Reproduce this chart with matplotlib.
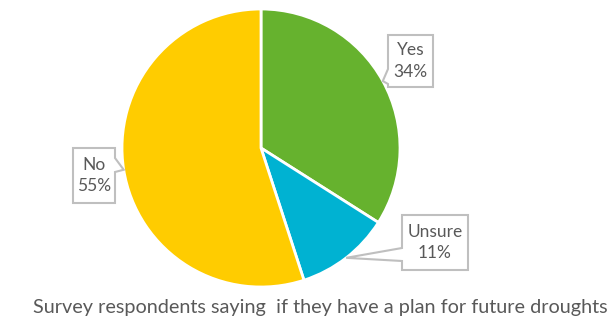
import numpy as np
import matplotlib.pyplot as plt
from matplotlib.patches import Polygon

# Données
categories = ['Yes', 'Unsure', 'No']
valeurs = [34, 11, 55]
couleurs = ['#66B22E', '#00B2D2', '#FFCC00']
titre = 'Survey respondents saying  if they have a plan for future droughts'

# Mise en page (pixels de l'image 610x324)
W, H = 610, 324
cx, cy, R = 261, 148, 139

def px(x, y):
    # conversion pixel -> coordonnées des axes (rayon du camembert = 1)
    return (x - cx) / R, (cy - y) / R

fig = plt.figure(figsize=(W / 100, H / 100), dpi=100)
ax = fig.add_axes([0, 0, 1, 1])

wedges, _ = ax.pie(valeurs, colors=couleurs, startangle=90, counterclock=False,
                   radius=1, center=(0, 0), frame=True,
                   wedgeprops=dict(edgecolor='white', linewidth=2))
ax.set_xlim(-cx / R, (W - cx) / R)
ax.set_ylim(-(H - cy) / R, cy / R)
ax.set_aspect('auto')
ax.axis('off')

# Boîtes des étiquettes : (gauche, haut, droite, bas), côté du pointeur, encoche (y1, y2)
boites = {
    'Yes': ((388, 35, 433, 87), 'left', (69, 84)),
    'Unsure': ((402, 215, 468, 270), 'left', (248, 261)),
    'No': ((73, 148, 115, 203), 'right', (158, 172)),
}

gris = '#595959'
for w, cat, v in zip(wedges, categories, valeurs):
    (x0, y0, x1, y1), cote, (n1, n2) = boites[cat]
    ang = np.deg2rad((w.theta1 + w.theta2) / 2)
    pointe = (np.cos(ang), np.sin(ang))
    if cote == 'left':
        pts = [px(x0, y0), px(x1, y0), px(x1, y1), px(x0, y1), px(x0, n2), pointe, px(x0, n1)]
    else:
        pts = [px(x0, y0), px(x1, y0), px(x1, n1), pointe, px(x1, n2), px(x1, y1), px(x0, y1)]
    ax.add_patch(Polygon(pts, closed=True, facecolor='white', edgecolor='#BFBFBF',
                         linewidth=1.5, zorder=3))
    tx, ty = px((x0 + x1) / 2, (y0 + y1) / 2)
    ax.text(tx, ty, f'{cat}\n{v}%', ha='center', va='center', color=gris,
            fontsize=12.5, family='Lato', linespacing=1.45, zorder=4)

tx, ty = px(320, 308)
ax.text(tx, ty, titre, ha='center', va='center', color=gris, fontsize=14.3, family='Lato')

fig.savefig('out.png', dpi=100)
